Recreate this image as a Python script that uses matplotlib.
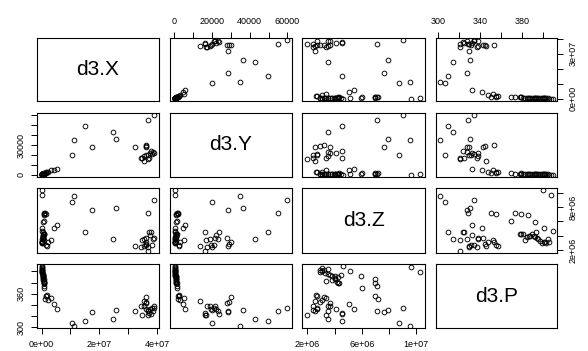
import matplotlib
matplotlib.use("Agg")
import matplotlib.pyplot as plt

plt.rcParams['font.family'] = ['Liberation Sans', 'DejaVu Sans']

var_names = ["d3.X", "d3.Y", "d3.Z", "d3.P"]

# groups: high-P cluster near origin, near-origin mid-P, trail, middle, right cluster
d3_X = [0.10e7, 0.09e7, 0.08e7, 0.07e7, 0.08e7, 0.09e7, 0.07e7, 0.05e7, 0.02e7, 0.03e7,
        0.01e7, 0.07e7, 0.06e7, 0.06e7, 0.05e7, 0.05e7, 0.05e7, 0.04e7, 0.04e7, 0.04e7,
        0.04e7, 0.03e7, 0.03e7, 0.03e7, 0.02e7, 0.02e7, 0.02e7, 0.01e7, 0.00e7,
        0.14e7, 0.12e7, 0.19e7, 0.23e7, 0.17e7,
        0.34e7, 0.44e7, 0.55e7,
        1.07e7, 1.12e7, 1.50e7, 1.74e7, 2.48e7, 2.58e7, 3.22e7, 3.68e7, 3.91e7,
        3.56e7, 3.67e7, 3.71e7, 3.49e7, 3.44e7, 3.56e7, 3.60e7, 3.84e7, 3.89e7, 3.74e7,
        3.80e7, 3.60e7, 3.60e7, 3.62e7, 3.86e7, 3.67e7]
d3_Y = [1400, 1200, 1100, 900, 1000, 1300, 1100, 700, 300, 500,
        200, 950, 900, 800, 750, 700, 650, 600, 600, 550,
        500, 450, 400, 400, 350, 300, 250, 200, 100,
        1900, 1700, 2500, 3000, 2300,
        5000, 4400, 5400,
        20000, 35000, 49500, 28300, 42800, 36200, 28500, 55100, 60000,
        13800, 16100, 16500, 16800, 17400, 19100, 19700, 20900, 21800, 22200,
        23900, 27700, 28900, 29800, 23200, 20000]
d3_Z = [6.0e6, 7.1e6, 7.0e6, 6.95e6, 4.25e6, 4.3e6, 4.2e6, 5.95e6, 10.3e6, 5.1e6,
        9.6e6, 3.4e6, 3.8e6, 4.0e6, 4.0e6, 4.25e6, 4.0e6, 3.8e6, 4.5e6, 3.7e6,
        3.55e6, 3.3e6, 2.95e6, 3.1e6, 3.2e6, 2.95e6, 3.55e6, 3.1e6, 4.6e6,
        7.0e6, 7.2e6, 2.65e6, 3.1e6, 2.75e6,
        3.4e6, 5.07e6, 5.45e6,
        8.75e6, 9.5e6, 4.56e6, 7.6e6, 3.53e6, 7.9e6, 2.6e6, 7.15e6, 9.0e6,
        2.6e6, 1.95e6, 4.56e6, 3.4e6, 2.4e6, 3.55e6, 2.7e6, 2.7e6, 3.67e6, 4.1e6,
        4.56e6, 3.67e6, 2.9e6, 3.2e6, 3.55e6, 2.45e6]
d3_P = [369.5, 373.5, 379, 385.5, 378.5, 379.5, 381, 392, 399.5, 401,
        408, 382.5, 385, 386.5, 388, 389.5, 391, 392.5, 393.5, 394,
        395.5, 397, 399, 400.5, 402, 403, 404.5, 405.5, 409,
        355, 350.5, 357, 348, 355.5,
        352.5, 341.5, 332.8,
        307, 302.5, 310, 327.5, 314.2, 331, 329.5, 329, 334,
        346, 321, 324.5, 321, 337.5, 338.5, 331.5, 334, 338.5, 332.4,
        323.5, 343, 345, 353.5, 328, 330]

x_ticks = [0, 1e7, 2e7, 3e7, 4e7]
x_bottom_labels = ["0e+00", "", "2e+07", "", "4e+07"]
x_right_labels = ["0e+00", "", "", "3e+07", ""]
y_ticks = [0, 10000, 20000, 30000, 40000, 50000, 60000]
y_top_labels = ["0", "", "20000", "", "40000", "", "60000"]
y_left_labels = ["0", "", "", "30000", "", "", ""]
z_ticks = [2e6, 4e6, 6e6, 8e6, 1e7]
z_bottom_labels = ["2e+06", "", "6e+06", "", "1e+07"]
z_right_labels = ["2e+06", "", "", "8e+06", ""]
p_ticks = [300, 320, 340, 360, 380, 400]
p_top_labels = ["300", "", "340", "", "380", ""]
p_left_labels = ["300", "", "", "360", "", ""]

data = [d3_X, d3_Y, d3_Z, d3_P]
ticks = [x_ticks, y_ticks, z_ticks, p_ticks]
outer_labels_h = [x_bottom_labels, y_top_labels, z_bottom_labels, p_top_labels]
outer_labels_v = [x_right_labels, y_left_labels, z_right_labels, p_left_labels]

W, H = 588, 351
fig = plt.figure(figsize=(W / 100, H / 100), dpi=100)
cols_px = [(37, 159), (170, 292), (302, 425), (436, 557)]
rows_px = [(38, 101), (113, 177), (188, 253), (264, 328)]


def rlim(v):
    lo, hi = min(v), max(v)
    r = hi - lo
    return lo - 0.04 * r, hi + 0.04 * r


tick_kw = dict(length=4, width=0.7, labelsize=6.5, pad=4.5, colors='black')

for i in range(4):
    for j in range(4):
        x0, x1 = cols_px[j]
        y0, y1 = rows_px[i]
        ax = fig.add_axes([x0 / W, 1 - y1 / H, (x1 - x0) / W, (y1 - y0) / H])
        for s in ax.spines.values():
            s.set_linewidth(0.8)
            s.set_color('black')
        ax.set_xlim(rlim(data[j]))
        ax.set_ylim(rlim(data[i]))
        ax.tick_params(axis='both', which='both', bottom=False, top=False, left=False, right=False,
                       labelbottom=False, labeltop=False, labelleft=False, labelright=False)
        if i == j:
            ax.text(0.5, 0.5, var_names[i], transform=ax.transAxes, ha='center', va='center',
                    fontsize=15)
        else:
            ax.plot(data[j], data[i], linestyle='none', marker='o', markersize=3.4,
                    markerfacecolor='none', markeredgecolor='black', markeredgewidth=0.65)
        # outer axes
        if i == 3 and j % 2 == 0:
            ax.set_xticks(ticks[j])
            ax.set_xticklabels(outer_labels_h[j])
            ax.tick_params(axis='x', bottom=True, labelbottom=True, **tick_kw)
        if i == 0 and j % 2 == 1:
            ax.set_xticks(ticks[j])
            ax.set_xticklabels(outer_labels_h[j])
            ax.tick_params(axis='x', top=True, labeltop=True, **tick_kw)
        if j == 0 and i % 2 == 1:
            ax.set_yticks(ticks[i])
            ax.set_yticklabels(outer_labels_v[i], rotation=90, va='center')
            ax.tick_params(axis='y', left=True, labelleft=True, **tick_kw)
        if j == 3 and i % 2 == 0:
            ax.set_yticks(ticks[i])
            ax.set_yticklabels(outer_labels_v[i], rotation=90, va='center')
            ax.tick_params(axis='y', right=True, labelright=True, **tick_kw)
        if not (i == 3 and j % 2 == 0) and not (i == 0 and j % 2 == 1):
            ax.set_xticks([])
        if not (j == 0 and i % 2 == 1) and not (j == 3 and i % 2 == 0):
            ax.set_yticks([])

fig.savefig("out.png", dpi=100, facecolor='white')
